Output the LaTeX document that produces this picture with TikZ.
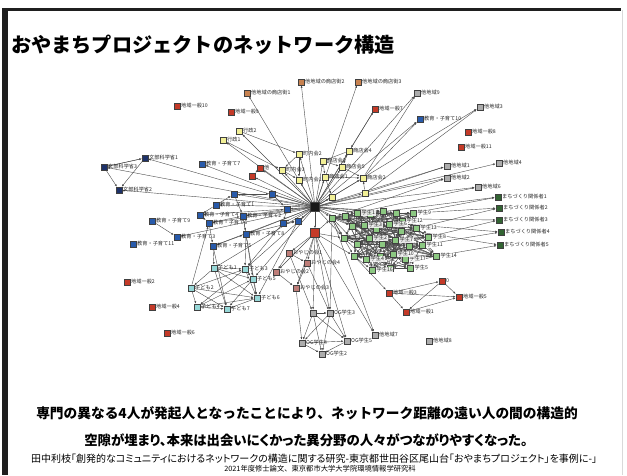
\documentclass[tikz,border=0pt]{standalone}
\usepackage{fontspec}
\newfontfamily\jp{Noto Sans CJK JP}
\newfontfamily\jpp[RawFeature=+palt]{Noto Sans CJK JP}
\usetikzlibrary{arrows.meta,backgrounds}
\definecolor{redn}{RGB}{196,58,40}
\definecolor{tann}{RGB}{200,130,80}
\definecolor{yeln}{RGB}{242,240,150}
\definecolor{navyn}{RGB}{30,50,105}
\definecolor{bluen}{RGB}{40,90,170}
\definecolor{grayn}{RGB}{172,172,172}
\definecolor{greenl}{RGB}{140,200,130}
\definecolor{greend}{RGB}{50,100,50}
\definecolor{tealn}{RGB}{150,215,215}
\definecolor{pinkn}{RGB}{190,125,120}
\tikzset{
  sq/.style={rectangle, draw=black!75, line width=0.45pt, minimum size=6.3pt, inner sep=0pt},
  lbl/.style={font=\jp\fontsize{5.2}{6}\selectfont, inner sep=0.6pt, text=black!85},
  clbl/.style={lbl, fill=white, fill opacity=0.85, text opacity=1},
  edge/.style={draw=black!70, line width=0.4pt, -{Latex[length=2.4pt,width=2pt]}},
  cr/.style={fill=redn}, ct/.style={fill=tann}, cy/.style={fill=yeln},
  cn/.style={fill=navyn}, cb/.style={fill=bluen}, cg/.style={fill=grayn},
  cgl/.style={fill=greenl}, cgd/.style={fill=greend}, ck/.style={fill=tealn},
  cp/.style={fill=pinkn},
  hub/.style={minimum size=9pt}
}
\newcommand\netnode[5]{\node[sq,#4,label={[lbl]0:#5}] (#1) at (#2,#3) {};}
\begin{document}
\begin{tikzpicture}[x=1pt,y=-1pt]
\useasboundingbox (0,0) rectangle (627,475);
% hubs
\node[sq,hub,fill=black!90] (H) at (315,207) {};
\node[sq,hub,cr] (R) at (315,233) {};
\node[sq,cgl] (G) at (332,218) {};
% tan
\netnode{sh1}{247}{93}{ct}{他地域の商店街1}
\netnode{sh2}{301}{82}{ct}{他地域の商店街2}
\netnode{sh3}{358}{82}{ct}{他地域の商店街3}
% red
\netnode{ipa}{177}{106}{cr}{地域一般10}
\netnode{ipb}{231}{112}{cr}{地域一般9}
\netnode{ip7}{375}{109}{cr}{地域一般7}
\netnode{ip8}{468}{132}{cr}{地域一般8}
\netnode{ipk}{461}{147}{cr}{地域一般11}
\netnode{ip2}{127}{282}{cr}{地域一般2}
\netnode{ip4}{152}{307}{cr}{地域一般4}
\netnode{ip6}{167}{333}{cr}{地域一般6}
\netnode{ip3}{389}{293}{cr}{地域一般3}
\netnode{rz}{442}{281}{cr}{0}
\netnode{ip5}{459}{297}{cr}{地域一般5}
\netnode{ip1}{406}{312}{cr}{地域一般1}
\netnode{r1}{260}{168}{cr}{他}
\netnode{r2}{252}{176}{cr}{}
% yellow
\netnode{gy2}{239}{131}{cy}{行政2}
\netnode{gy1}{223}{140}{cy}{行政1}
\netnode{ch2}{299}{154}{cy}{町内会2}
\netnode{ch3}{282}{170}{cy}{町内会3}
\netnode{ch1}{299}{180}{cy}{町内会1}
\netnode{sk4}{349}{151}{cy}{商店会4}
\netnode{sk3}{323}{161}{cy}{商店会3}
\netnode{sk5}{342}{167}{cy}{商店会5}
\netnode{sk1}{325}{177}{cy}{商店会1}
\netnode{sk2}{363}{178}{cy}{商店会2}
\netnode{y6}{365}{193}{cy}{}
\netnode{y7}{332}{197}{cy}{}
% navy / blue
\netnode{mk1}{145}{158}{cn}{文部科学省1}
\netnode{mk3}{104}{167}{cn}{文部科学省3}
\netnode{mk2}{119}{190}{cn}{文部科学省2}
\netnode{ed7}{202}{164}{cb}{教育・子育て7}
\netnode{edx}{420}{119}{cb}{教育・子育て10}
\netnode{ed9}{152}{221}{cb}{教育・子育て9}
\netnode{edy}{133}{244}{cb}{教育・子育て11}
\netnode{ed3}{177}{237}{cb}{教育・子育て3}
\netnode{eda}{234}{194}{cb}{}
\netnode{edb}{272}{194}{cb}{}
\netnode{ed1}{216}{205}{cb}{教育・子育て1}
\netnode{edc}{287}{209}{cb}{}
\netnode{ed4}{200}{215}{cb}{教育・子育て4}
\netnode{ed2}{243}{216}{cb}{教育・子育て2}
\netnode{edd}{298}{221}{cb}{}
\netnode{ede}{283}{223}{cb}{}
\netnode{ed6}{209}{223}{cb}{教育・子育て6}
\netnode{ed8}{246}{234}{cb}{教育・子育て8}
\netnode{ed5}{213}{246}{cb}{教育・子育て5}
% gray
\netnode{ta9}{417}{93}{cg}{他地域9}
\netnode{ta3}{480}{107}{cg}{他地域3}
\netnode{ta4}{499}{163}{cg}{他地域4}
\netnode{ta1}{447}{166}{cg}{他地域1}
\netnode{ta2}{447}{178}{cg}{他地域2}
\netnode{ta6}{478}{187}{cg}{他地域6}
\netnode{ta7}{375}{335}{cg}{他地域7}
\netnode{ta8}{429}{341}{cg}{他地域8}
% dark green
\netnode{md1}{498}{197}{cgd}{まちづくり関係者1}
\netnode{md2}{499}{208}{cgd}{まちづくり関係者2}
\netnode{md3}{499}{220}{cgd}{まちづくり関係者3}
\netnode{md4}{501}{232}{cgd}{まちづくり関係者4}
\netnode{md5}{500}{245}{cgd}{まちづくり関係者5}
% kids
\netnode{kd1}{214}{268}{ck}{子ども1}
\netnode{kd3}{245}{269}{ck}{子ども3}
\netnode{kd5}{253}{279}{ck}{子ども5}
\netnode{kd2}{191}{288}{ck}{子ども2}
\netnode{kd6}{257}{298}{ck}{子ども6}
\netnode{kd4}{197}{307}{ck}{子ども4}
\netnode{kd7}{227}{309}{ck}{子ども7}
% oyaji
\netnode{oy1}{289}{253}{cp}{おやじの会1}
\netnode{oy4}{307}{263}{cp}{おやじの会4}
\netnode{oy2}{276}{272}{cp}{おやじの会2}
\netnode{oy3}{296}{288}{cp}{おやじの会3}
% OG
\netnode{og1}{313}{313}{cg}{}
\netnode{og3}{330}{313}{cg}{OG学生3}
\netnode{og4}{302}{343}{cg}{OG学生4}
\netnode{og5}{347}{341}{cg}{OG学生5}
\netnode{og2}{322}{354}{cg}{OG学生2}
% student cluster
\foreach \n/\x/\y in {1/345/216,2/357/213,3/370/214,4/383/211,5/396/213,6/402/221,7/413/213,8/352/226,9/364/225,10/376/229,11/389/224,12/401/231,13/416/228,14/428/237,15/344/238,16/357/244,17/369/238,18/382/244,19/395/240,20/409/246,21/422/245,22/436/256,23/354/256,24/366/259,25/380/256,26/393/254,27/405/259,28/410/268,29/390/268,30/372/270}
  \node[sq,cgl] (g\n) at (\x,\y) {};
\foreach \n/\t in {7/学生9,6/学生12,14/学生8,21/学生11,22/学生14,27/学生17,28/学生5,2/学生1,9/学生3,11/学生6,17/学生2,19/学生7,24/学生4,26/学生10,30/学生16,13/学生13}
  \node[clbl,anchor=west] (gl\n) at ([xshift=0.5pt]g\n.east) {\t};
% edges
\begin{pgfonlayer}{background}
\fill[white] (0,0) rectangle (627,475);
\fill[black!88] (3,8) rectangle (621,10.5);
\fill[black!88] (2,8) rectangle (8,475);
\draw[black!15] (622,10) -- (622,475);
\foreach \t in {sh1,sh2,sh3,gy1,gy2,mk1,mk3,mk2,ed7,r1,r2,ch1,ch2,ch3,sk1,sk2,sk3,sk4,sk5,y6,y7,ta9,ip7,edx,ta3,ta1,ta2,ta4,ta6,eda,edb,ed1,edc,ed4,ed2,edd,ede,ed6,ed8,ed5,ed3,R,G,kd1,kd3,kd5,g1,g2,g3,g8,g15,g4,g5}
  \draw[edge] (H) -- (\t);
\foreach \a/\b in {mk3/mk1,mk1/mk3,mk3/mk2,mk1/mk2,ed9/ed3,r1/r2,ch2/ch3,ch2/ch1,ch3/ch1,sk3/sk1,sk4/sk5,sk3/sk5,sk1/sk2,sk5/sk2,sk1/y7,sk4/sk3,y6/sk2,ed1/eda,eda/edb,edb/edc,ed4/ed6,ed2/ed8,ed6/ed5,edc/ede,ede/edd,ed1/ed4,eda/ed2,ed2/edc,ed6/ed2,ed8/edd,ed5/ed8,sk2/ta9,sk2/edx,y6/ta3,y6/ta1,ip7/sk4,gy1/ch3,gy2/ch2}
  \draw[edge] (\a) -- (\b);
\foreach \a/\b in {kd1/kd3,kd1/kd2,kd1/kd5,kd1/kd6,kd1/kd7,kd2/kd4,kd2/kd7,kd2/kd3,kd2/kd6,kd4/kd7,kd4/kd6,kd3/kd5,kd3/kd6,kd3/kd4,kd5/kd6,kd5/kd7,kd6/kd7,kd2/ed6,ed5/kd1,ed8/kd3,ed2/kd5,ed5/kd7,ed8/kd6,kd4/kd5,edd/kd6,ede/kd3}
  \draw[edge] (\a) -- (\b);
\foreach \a/\b in {oy1/oy2,oy1/oy4,oy2/oy3,oy4/oy3,R/oy1,R/oy4,R/oy3,R/oy2,og1/og3,og1/og4,og1/og5,og1/og2,og3/og4,og3/og5,og3/og2,og4/og5,og4/og2,og5/og2,R/og1,R/og3,oy1/og1,oy4/og3,oy3/og4,R/og5,G/og3,R/ta7,G/ta7,ip3/rz,ip3/ip5,ip3/ip1,rz/ip5,rz/ip1,ip1/ip5,g23/ip3,R/G,R/g15,R/g23}
  \draw[edge] (\a) -- (\b);
\foreach \t in {md1,md2,md3,md4,md5,ta2,ta6,g1,g8,g15,g9,g16,g23,g2,g3}
  \draw[edge] (G) -- (\t);
\foreach \a/\b in {g7/md1,g14/md3,g22/md5,g13/md2,g21/md4}
  \draw[edge] (\a) -- (\b);
\foreach \i in {1,...,30}{
  \foreach \k in {1,2,4,5,7,9,13}{
    \pgfmathtruncatemacro\j{mod(\i+\k-1,30)+1}
    \draw[edge] (g\i) -- (g\j);
  }
}
\end{pgfonlayer}
% texts
\node[anchor=west,font=\jp\bfseries\fontsize{20.2}{23}\selectfont,inner sep=0pt] (title) at (11,45) {おやまちプロジェクトのネットワーク構造};
\node[font=\jp\bfseries\fontsize{13.7}{17}\selectfont,inner sep=0pt] (cap1) at (307,413) {専門の異なる4人が発起人となったことにより、ネットワーク距離の遠い人の間の構造的};
\node[font=\jpp\bfseries\fontsize{13.4}{17}\selectfont,inner sep=0pt] (cap2) at (306,440) {空隙が埋まり、本来は出会いにくかった異分野の人々がつながりやすくなった。};
\node[font=\jpp\fontsize{10}{11}\selectfont,inner sep=0pt] (cite) at (314,459) {田中利枝「創発的なコミュニティにおけるネットワークの構造に関する研究-東京都世田谷区尾山台「おやまちプロジェクト」を事例に-」};
\node[font=\jp\fontsize{7.3}{8}\selectfont,inner sep=0pt] (cite2) at (320,469) {2021年度修士論文、東京都市大学大学院環境情報学研究科};
\end{tikzpicture}
\end{document}
